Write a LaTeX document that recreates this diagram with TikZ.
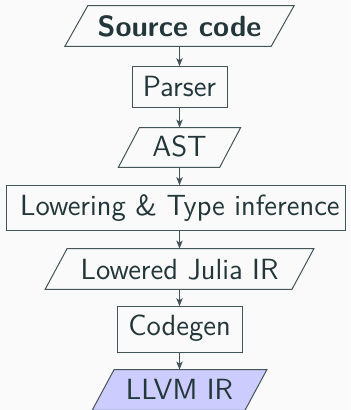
\documentclass[tikz,border=0pt]{standalone}
\usetikzlibrary{arrows.meta}
\definecolor{ink}{HTML}{23373B}
\definecolor{paper}{HTML}{FAFAFA}
\pgfdeclarelayer{bg}
\pgfsetlayers{bg,main}
\begin{document}
\begin{tikzpicture}[x=0.5pt,y=-0.5pt,
  every node/.style={font=\fontsize{14.6pt}{17.5pt}\selectfont\sffamily, text=ink,
    inner ysep=0pt, inner xsep=0pt, anchor=center},
  stage/.style={draw=ink!85, line width=0.5pt, rectangle},
  datum/.style={rectangle},
  slanted/.style={draw=ink!85, line width=0.5pt, line join=miter},
  arr/.style={draw=ink!85, line width=0.5pt, -{Stealth[length=4pt,width=3.2pt,inset=1pt]}}]
  % page
  \begin{pgfonlayer}{bg}
    \fill[paper] (0,0) rectangle (350,410);
  \end{pgfonlayer}
  \useasboundingbox (0,0) rectangle (350,410);

  % data (parallelograms) and stages (boxes)
  \node[datum, minimum width=102.75pt, text height=15.25pt, text depth=4.75pt] (src) at (179.5,26) {\bfseries Source code};
  \node[stage, minimum width=47.5pt, text height=15pt, text depth=5.3pt] (parser) at (179.5,87) {Parser};
  \node[datum, minimum width=50.25pt, text height=14.5pt, text depth=5pt] (ast) at (179.5,147.5) {AST};
  \node[stage, minimum width=169.15pt, text height=15pt, text depth=7.65pt] (lower) at (175.9,208.3) {\hspace*{4pt}Lowering \& Type inference};
  \node[datum, minimum width=123pt, text height=15pt, text depth=5pt] (ljir) at (179.5,269) {Lowered Julia IR};
  \node[stage, minimum width=62.5pt, text height=14.5pt, text depth=8.3pt] (codegen) at (179.5,329.5) {Codegen};
  \node[datum, minimum width=76pt, text height=14.65pt, text depth=5.35pt] (llvm) at (179.5,390) {LLVM IR};

  % parallelogram outlines behind the data nodes
  \begin{pgfonlayer}{bg}
    \foreach \n/\s/\c in {src/5.75pt/paper, ast/5.25pt/paper, ljir/5.5pt/paper, llvm/5.5pt/blue!20}{
      \filldraw[slanted, fill=\c] ([xshift=\s]\n.north west) -- ([xshift=\s]\n.north east)
        -- ([xshift=-\s]\n.south east) -- ([xshift=-\s]\n.south west) -- cycle;
    }
  \end{pgfonlayer}

  % connectors
  \draw[arr] (src) -- (parser);
  \draw[arr] (parser) -- (ast);
  \draw[arr] (ast.south) -- (ast.south |- lower.north);
  \draw[arr] (lower.south -| ljir.north) -- (ljir.north);
  \draw[arr] (ljir) -- (codegen);
  \draw[arr] (codegen) -- (llvm);
\end{tikzpicture}
\end{document}
